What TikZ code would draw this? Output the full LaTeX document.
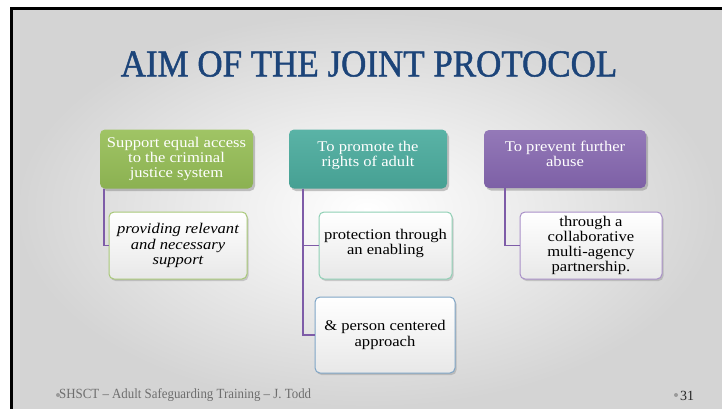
\documentclass[tikz,border=0pt]{standalone}
\usepackage{fontspec}
\setmainfont{Liberation Serif}
\newfontfamily\boxfont[FakeStretch=1.12]{Liberation Serif}
\newfontfamily\titlefont[FakeBold=1.3]{Liberation Serif}
\usetikzlibrary{shadows}
\definecolor{titleblue}{HTML}{1C4479}
\definecolor{grn}{HTML}{8BB151}
\definecolor{grnT}{HTML}{A0C465}
\definecolor{teal}{HTML}{46A093}
\definecolor{tealT}{HTML}{5AB3A6}
\definecolor{purp}{HTML}{7D60A6}
\definecolor{purpT}{HTML}{9479B8}
\definecolor{conn}{HTML}{7E5CA8}
\definecolor{bgrn}{HTML}{A8C878}
\definecolor{bteal}{HTML}{8FD0B5}
\definecolor{bblue}{HTML}{7FA5C6}
\definecolor{bpurp}{HTML}{A990C8}
\definecolor{foot}{HTML}{6E6E6E}
\tikzset{
  x=1pt, y=-1pt,
  headbox/.style={rounded corners=5pt, text=white, align=center, inner sep=0pt,
    font=\boxfont\fontsize{14.8}{15.2}\selectfont,
    drop shadow={opacity=0.45, shadow xshift=2pt, shadow yshift=-2.5pt}},
  childbox/.style={rounded corners=5pt, draw, line width=1pt, align=center, inner sep=0pt,
    top color=white, bottom color=black!9, text=black,
    font=\boxfont\fontsize{14.8}{15.2}\selectfont,
    drop shadow={opacity=0.35, shadow xshift=1.5pt, shadow yshift=-2pt}},
  link/.style={draw=conn, line width=1.6pt}
}
\begin{document}
\begin{tikzpicture}
\useasboundingbox (0,0) rectangle (722,409);
\fill[white] (0,0) rectangle (722,409);
\shade[inner color=white, outer color=black!17] (12,10) rectangle (722,409);
\fill[black] (10,7.5) rectangle (722,10.5);
\fill[black] (10,7.5) rectangle (12.5,409);
% title
\node[inner sep=0pt, text=titleblue] (title) at (369,64) {\scalebox{0.92}[1]{\titlefont\fontsize{38}{40}\selectfont AIM OF THE JOINT PROTOCOL}};
% head boxes
\node[headbox, top color=grnT, bottom color=grn, minimum width=153pt, minimum height=59pt] (h1) at (176.5,159) {Support equal access\\to the criminal\\justice system};
\node[headbox, top color=tealT, bottom color=teal, minimum width=158pt, minimum height=59pt, text depth=10pt] (h2) at (368,159) {To promote the\\rights of adult};
\node[headbox, top color=purpT, bottom color=purp, minimum width=162pt, minimum height=58pt, text depth=10pt] (h3) at (565,159) {To prevent further\\abuse};
% child boxes
\node[childbox, draw=bgrn, minimum width=138pt, minimum height=67pt, font=\boxfont\itshape\fontsize{14.8}{15.2}\selectfont] (c1) at (178,245.5) {providing relevant\\and necessary\\support};
\node[childbox, draw=bteal, minimum width=133pt, minimum height=67pt, text depth=8pt] (c2) at (385.5,245.5) {protection through\\an enabling};
\node[childbox, draw=bblue, minimum width=140pt, minimum height=76pt] (c3) at (385,335) {\& person centered\\approach};
\node[childbox, draw=bpurp, minimum width=142pt, minimum height=67pt] (c4) at (591,245.5) {through a\\collaborative\\multi-agency\\partnership.};
% connectors
\draw[link] (h1.south west) ++(4,0) |- (c1.west);
\draw[link] (h2.south west) ++(14,0) |- (c2.west);
\draw[link] (h2.south west) ++(14,0) |- (c3.west);
\draw[link] (h3.south west) ++(21,0) |- (c4.west);
% footer
\fill[foot!70] (58,395) circle (2pt);
\node[anchor=west, text=foot, inner sep=0pt] (ft) at (59,395.5) {\scalebox{0.92}[1]{\fontsize{14}{15}\selectfont SHSCT – Adult Safeguarding Training – J. Todd}};
\fill[foot!70] (676,395) circle (2pt);
\node[anchor=west, text=black!85, inner sep=0pt] (pg) at (680,395.5) {\fontsize{14}{15}\selectfont 31};
\end{tikzpicture}
\end{document}
